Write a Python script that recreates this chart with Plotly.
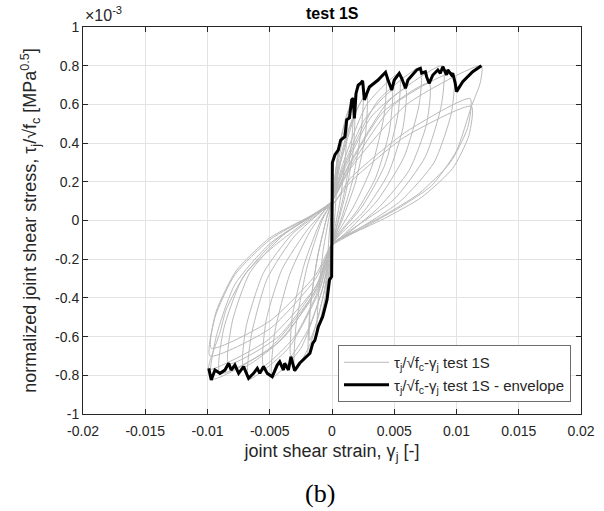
import plotly.graph_objects as go

# ---------------- data (stress in units of 1e-3 MPa^0.5) ----------------
# envelope of the hysteresis (left to right)
env_x = [-0.0099, -0.0098, -0.0097, -0.0094, -0.0090, -0.0086, -0.0083, -0.0081, -0.0078,
         -0.0075, -0.0071, -0.0067, -0.0063, -0.0060, -0.0058, -0.0055, -0.0052, -0.0048,
         -0.0044, -0.0042, -0.0039, -0.0038, -0.0035, -0.0033, -0.0031, -0.0030, -0.0026,
         -0.0020, -0.0019, -0.00177, -0.00155, -0.00137, -0.00123, -0.0011, -0.00075,
         -0.00056, -0.0004, -0.0002, -0.00003, 0.0, 0.00003, 0.00024, 0.0005, 0.0007,
         0.00104, 0.00118, 0.0014, 0.00158, 0.0017, 0.0018, 0.00193, 0.0021, 0.0023,
         0.00246, 0.0026, 0.0028, 0.0030, 0.0037, 0.0043, 0.0045, 0.0048, 0.0050, 0.0054,
         0.0056, 0.0059, 0.0061, 0.0068, 0.0071, 0.0072, 0.0075, 0.0076, 0.0078, 0.0081,
         0.0085, 0.0087, 0.0089, 0.0091, 0.0092, 0.0093, 0.0096, 0.0097, 0.0099, 0.0100,
         0.0105, 0.0113, 0.0120]
env_y = [-0.764, -0.807, -0.824, -0.773, -0.790, -0.773, -0.738, -0.773, -0.747,
         -0.790, -0.755, -0.816, -0.790, -0.764, -0.790, -0.755, -0.790, -0.807,
         -0.747, -0.730, -0.773, -0.738, -0.773, -0.704, -0.755, -0.776, -0.738,
         -0.704, -0.695, -0.686, -0.635, -0.618, -0.583, -0.549, -0.497,
         -0.445, -0.410, -0.307, -0.290, 0.0, 0.300, 0.340, 0.364, 0.416,
         0.433, 0.520, 0.530, 0.623, 0.631, 0.528, 0.657, 0.700, 0.709,
         0.722, 0.623, 0.657, 0.690, 0.726, 0.766, 0.726, 0.674, 0.726, 0.761,
         0.735, 0.683, 0.726, 0.778, 0.786, 0.761, 0.769, 0.743, 0.709, 0.752,
         0.778, 0.761, 0.795, 0.769, 0.752, 0.778, 0.752, 0.761, 0.709, 0.666,
         0.717, 0.769, 0.800]

# full cyclic response (estimated points along the grey loops, in time order)
cyc_x = [
    0.0, 0.0002, 0.0005, 0.0004, 0.0002, 0.0, -0.0003, -0.0005, -0.0004, -0.0002, 0.0,
    0.0004, 0.0008, 0.0012, 0.0011, 0.0007, 0.0002, 0.0, -0.0004, -0.0008, -0.0012, -0.0011, -0.0007, -0.0002, 0.0,
    0.0005, 0.0011, 0.0017, 0.0016, 0.0011, 0.0004, 0.0, -0.0005, -0.0012, -0.0019, -0.0018, -0.0012, -0.0004, 0.0,
    0.0006, 0.0012, 0.0018, 0.0017, 0.0011, 0.0004, 0.0, -0.0006, -0.0012, -0.0018, -0.0017, -0.0011, -0.0004, 0.0,
    0.0005, 0.0014, 0.0025, 0.0024, 0.0017, 0.0007, 0.0, -0.0006, -0.0017, -0.0030, -0.0029, -0.0020, -0.0008, 0.0,
    0.0006, 0.0016, 0.0028, 0.0027, 0.0019, 0.0008, 0.0, -0.0007, -0.0019, -0.0033, -0.0032, -0.0022, -0.0009, 0.0,
    0.0007, 0.0022, 0.0043, 0.0042, 0.0032, 0.0018, 0.0005, 0.0, -0.0008, -0.0025, -0.0048, -0.0046, -0.0034, -0.0018, -0.0005, 0.0,
    0.0008, 0.0026, 0.0048, 0.0046, 0.0035, 0.0020, 0.0005, 0.0, -0.0009, -0.0030, -0.0055, -0.0053, -0.0040, -0.0020, -0.0005, 0.0,
    0.0008, 0.0028, 0.0054, 0.0053, 0.0042, 0.0024, 0.0006, 0.0, -0.0010, -0.0035, -0.0067, -0.0065, -0.0052, -0.0030, -0.0008, 0.0,
    0.0009, 0.0032, 0.0059, 0.0057, 0.0045, 0.0026, 0.0007, 0.0, -0.0011, -0.0038, -0.0071, -0.0069, -0.0055, -0.0032, -0.0008, 0.0,
    0.0010, 0.0037, 0.0071, 0.0070, 0.0058, 0.0036, 0.0010, 0.0, -0.0012, -0.0045, -0.0090, -0.0087, -0.0072, -0.0045, -0.0015, 0.0,
    0.0011, 0.0041, 0.0078, 0.0076, 0.0062, 0.0038, 0.0010, 0.0, -0.0012, -0.0043, -0.0083, -0.0080, -0.0066, -0.0040, -0.0012, 0.0,
    0.0012, 0.0046, 0.0089, 0.0088, 0.0075, 0.0050, 0.0015, 0.0, -0.0013, -0.0050, -0.0097, -0.0093, -0.0078, -0.0050, -0.0018, 0.0,
    0.0013, 0.0050, 0.0097, 0.0096, 0.0082, 0.0055, 0.0017, 0.0, -0.0013, -0.0052, -0.0099, -0.0095, -0.0090, -0.0085, -0.0069, -0.0047, -0.0020, 0.0,
    0.0015, 0.0060, 0.0120, 0.0119, 0.0112, 0.0100, 0.0080, 0.0055, 0.0030, 0.0010, 0.0,
    -0.0013, -0.0050, -0.0098, -0.0094, -0.0078, -0.0050, -0.0018, 0.0,
    0.0015, 0.0060, 0.0111, 0.0109, 0.0095, 0.0070, 0.0040, 0.0010, 0.0,
    -0.0013, -0.0050, -0.0097, -0.0093, -0.0077, -0.0050, -0.0018, 0.0,
    0.0015, 0.0058, 0.0112, 0.0110, 0.0097, 0.0072, 0.0042, 0.0012, 0.0,
]
cyc_y = [
    0.0, 0.20, 0.36, 0.20, 0.00, -0.15, -0.33, -0.44, -0.25, -0.05, 0.08,
    0.30, 0.45, 0.52, 0.35, 0.12, -0.05, -0.15, -0.35, -0.50, -0.58, -0.40, -0.15, 0.03, 0.10,
    0.35, 0.53, 0.63, 0.42, 0.18, -0.02, -0.14, -0.38, -0.58, -0.70, -0.48, -0.20, 0.02, 0.10,
    0.30, 0.45, 0.53, 0.36, 0.14, -0.03, -0.13, -0.36, -0.52, -0.62, -0.42, -0.17, 0.02, 0.10,
    0.30, 0.58, 0.72, 0.50, 0.22, 0.00, -0.13, -0.36, -0.63, -0.78, -0.55, -0.24, 0.00, 0.10,
    0.28, 0.52, 0.66, 0.45, 0.20, 0.00, -0.12, -0.34, -0.56, -0.70, -0.50, -0.22, 0.00, 0.10,
    0.30, 0.60, 0.77, 0.55, 0.28, 0.08, -0.06, -0.13, -0.36, -0.66, -0.81, -0.58, -0.28, -0.06, 0.06, 0.10,
    0.26, 0.52, 0.67, 0.46, 0.22, 0.05, -0.07, -0.12, -0.33, -0.60, -0.75, -0.52, -0.25, -0.05, 0.06, 0.10,
    0.28, 0.60, 0.76, 0.55, 0.28, 0.07, -0.07, -0.13, -0.36, -0.66, -0.82, -0.60, -0.30, -0.08, 0.05, 0.10,
    0.25, 0.54, 0.68, 0.48, 0.24, 0.05, -0.07, -0.12, -0.33, -0.60, -0.755, -0.55, -0.27, -0.07, 0.05, 0.10,
    0.28, 0.62, 0.79, 0.60, 0.33, 0.10, -0.07, -0.13, -0.36, -0.64, -0.79, -0.56, -0.30, -0.10, 0.03, 0.10,
    0.25, 0.56, 0.71, 0.50, 0.26, 0.07, -0.08, -0.12, -0.33, -0.60, -0.74, -0.52, -0.27, -0.08, 0.04, 0.10,
    0.27, 0.62, 0.80, 0.60, 0.33, 0.11, -0.05, -0.13, -0.36, -0.66, -0.82, -0.60, -0.33, -0.12, 0.02, 0.10,
    0.26, 0.60, 0.76, 0.56, 0.30, 0.10, -0.06, -0.12, -0.34, -0.62, -0.77, -0.67, -0.58, -0.46, -0.27, -0.135, 0.00, 0.10,
    0.27, 0.60, 0.80, 0.71, 0.59, 0.36, 0.18, 0.07, -0.02, -0.09, -0.13,
    -0.30, -0.56, -0.70, -0.50, -0.28, -0.10, 0.02, 0.08,
    0.22, 0.46, 0.63, 0.48, 0.30, 0.14, 0.02, -0.08, -0.12,
    -0.28, -0.52, -0.66, -0.47, -0.26, -0.09, 0.02, 0.08,
    0.20, 0.43, 0.59, 0.44, 0.27, 0.12, 0.01, -0.08, -0.12,
]

x_ticks = [-0.02, -0.015, -0.01, -0.005, 0, 0.005, 0.01, 0.015, 0.02]
x_tick_text = ["-0.02", "-0.015", "-0.01", "-0.005", "0", "0.005", "0.01", "0.015", "0.02"]
y_ticks = [-1, -0.8, -0.6, -0.4, -0.2, 0, 0.2, 0.4, 0.6, 0.8, 1]
y_tick_text = ["-1", "-0.8", "-0.6", "-0.4", "-0.2", "0", "0.2", "0.4", "0.6", "0.8", "1"]

legend_name = "τ<sub>j</sub>/√f<sub>c</sub>-γ<sub>j</sub> test 1S"

# ---------------- figure ----------------
W, H = 604, 511
L, R, T, B = 83, 23, 27, 97
pw, ph = W - L - R, H - T - B

def px(xp):
    return (xp - L) / pw

def py(yp):
    return (H - B - yp) / ph

AX = "#262626"
FONT = "Liberation Sans, Arial, sans-serif"

fig = go.Figure()
fig.add_trace(go.Scatter(
    x=cyc_x, y=cyc_y, mode="lines", name=legend_name,
    line=dict(color="#bababa", width=1, shape="spline", smoothing=0.6),
))
fig.add_trace(go.Scatter(
    x=env_x, y=env_y, mode="lines", name=legend_name + " - envelope",
    line=dict(color="black", width=3),
))

axis_common = dict(
    showline=True, linecolor=AX, linewidth=1, mirror="allticks",
    ticks="inside", ticklen=5, tickcolor=AX, tickwidth=1,
    showgrid=True, gridcolor="#e3e3e3", gridwidth=1,
    zeroline=False, tickfont=dict(family=FONT, size=14, color=AX),
)

fig.update_layout(
    width=W, height=H,
    margin=dict(l=L, r=R, t=T, b=B, autoexpand=False),
    paper_bgcolor="white", plot_bgcolor="white",
    font=dict(family=FONT, color=AX),
    showlegend=True,
    legend=dict(
        x=px(571), y=py(402), xanchor="right", yanchor="bottom",
        bgcolor="white", bordercolor="#6e6e6e", borderwidth=1,
        font=dict(family=FONT, size=15, color=AX), tracegroupgap=0,
        itemwidth=45,
    ),
    xaxis=dict(
        range=[-0.02, 0.02], tickvals=x_ticks, ticktext=x_tick_text,
        ticklabelstandoff=4,
        title=dict(text="joint shear strain, γ<sub>j</sub> [-]",
                   font=dict(family=FONT, size=18, color=AX), standoff=6),
        **axis_common,
    ),
    yaxis=dict(
        range=[-1, 1], tickvals=y_ticks, ticktext=y_tick_text,
        title=dict(text="normalized joint shear stress, τ<sub>j</sub>/√f<sub>c</sub> [MPa<sup>0.5</sup>]",
                   font=dict(family=FONT, size=18, color=AX), standoff=13),
        **axis_common,
    ),
    annotations=[
        dict(text="<b>test 1S</b>", x=px(332), y=py(13), xref="paper", yref="paper",
             showarrow=False, font=dict(family=FONT, size=16, color="black"),
             xanchor="center", yanchor="middle"),
        dict(text="×10<sup>-3</sup>", x=px(83), y=py(26), xref="paper", yref="paper",
             showarrow=False, font=dict(family=FONT, size=16, color=AX),
             xanchor="left", yanchor="bottom"),
        dict(text="(b)", x=px(320), y=py(493), xref="paper", yref="paper",
             showarrow=False, font=dict(family="Liberation Serif, Times New Roman, serif", size=26, color="black"),
             xanchor="center", yanchor="middle"),
    ],
)

fig.write_html("out.html")
